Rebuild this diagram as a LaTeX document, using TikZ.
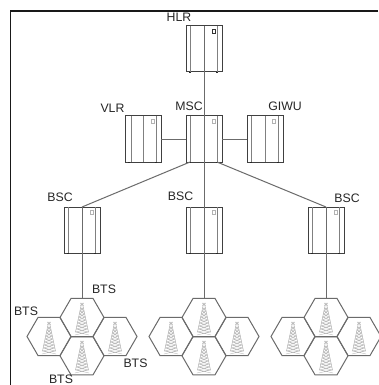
\documentclass[tikz,border=0pt]{standalone}
\usepackage{fontspec}
\setmainfont{Liberation Sans}
\usetikzlibrary{shapes.geometric}
\definecolor{linkc}{gray}{0.42}
\definecolor{hexc}{gray}{0.42}
\definecolor{towc}{gray}{0.68}
\definecolor{txtc}{gray}{0.15}
\tikzset{
  x=1pt,y=-1pt,
  frameline/.style={line width=1.8pt,black!90},
  cabbox/.style={draw=black!75,line width=1pt,rectangle,minimum width=36pt,minimum height=46pt,inner sep=0pt,outer sep=0pt},
  cabline/.style={line width=0.7pt,black!50},
  cabmark/.style={line width=0.5pt,gray!60},
  cabfoot/.style={line width=1.2pt,black!85},
  link/.style={line width=1pt,linkc},
  hexcell/.style={draw=hexc,line width=1pt,regular polygon,regular polygon sides=6,minimum size=44pt,inner sep=0pt,outer sep=0pt},
  lab/.style={font=\fontsize{12.3}{13}\selectfont,text=txtc,inner sep=0pt},
  towerline/.style={line width=0.3pt,towc},
  pics/tower/.style={code={
    \draw[towerline,line width=0.45pt] (-0.8,-13) -- (-6.5,14) (0.8,-13) -- (6.5,14);
    \foreach \t in {0,...,8}{
      \pgfmathsetmacro{\ya}{-10+\t*3}
      \pgfmathsetmacro{\wa}{0.8+(\ya+13)*5.7/27}
      \pgfmathsetmacro{\yb}{\ya+3}
      \pgfmathsetmacro{\wb}{0.8+(\yb+13)*5.7/27}
      \draw[towerline] (-\wa,\ya) -- (\wa,\ya) (-\wa,\ya) -- (\wb,\yb) (\wa,\ya) -- (-\wb,\yb);
    }
    \draw[towerline,line width=0.4pt] (-1.8,-15) -- (1.8,-12.5) (1.8,-15) -- (-1.8,-12.5) (0,-15.5) -- (0,-12);
  }}
}
% name, x, y, left inner, mid inner, right inner, mark x, mark colour
\newcommand{\cabinetat}[8]{
  \node[cabbox] (#1) at (#2,#3) {};
  \draw[cabline] (#4,#3-23) -- (#4,#3+23) (#5,#3-23) -- (#5,#3+23) (#6,#3-23) -- (#6,#3+23);
  \draw[#8] (#7-1.5,#3-20) rectangle (#7+1.5,#3-15.5);
  \draw[cabfoot] (#2-15,#3+23.5) -- (#2-13,#3+23.5) (#2+12,#3+23.5) -- (#2+14,#3+23.5);
}
\begin{document}
\begin{tikzpicture}
\useasboundingbox (0,0) rectangle (378,385);
\fill[white] (0,0) rectangle (378,385);
\draw[frameline] (378,11) -- (10.5,11) -- (10.5,385);

\cabinetat{hlr}{204}{49}{190}{204}{217}{213.5}{cabmark,black!80,line width=0.8pt}
\cabinetat{msc}{204}{139}{190}{204}{217}{213.5}{cabmark}
\cabinetat{vlr}{143}{139}{131.5}{143}{156.5}{152.5}{cabmark}
\cabinetat{giwu}{265}{139}{251.5}{265}{278}{274}{cabmark}
\cabinetat{bscA}{82}{230}{68}{82}{95}{91.5}{cabmark}
\cabinetat{bscB}{204}{230}{190}{204}{217}{213.5}{cabmark}
\cabinetat{bscC}{326}{230}{312}{326}{339}{335.5}{cabmark}

\foreach \n/\c in {A/82,B/204,C/326}{
  \node[hexcell] (top\n) at (\c,317.5) {};
  \node[hexcell] (left\n) at (\c-33,336.5) {};
  \node[hexcell] (right\n) at (\c+33,336.5) {};
  \node[hexcell] (bot\n) at (\c,355.8) {};
  \path (\c,318) pic {tower};
  \path (\c-33,337) pic {tower};
  \path (\c+33,337) pic {tower};
  \path (\c,356) pic {tower};
}

\draw[link] (hlr.north) -- (msc.north);
\draw[link] (msc.north) -- (bscB.north);
\draw[link] (bscB.north) -- (topB.north);
\draw[link] (vlr.east) -- (msc.west);
\draw[link] (msc.east) -- (giwu.west);
\draw[link] ([xshift=4pt]msc.south west) -- (bscA.north);
\draw[link] ([xshift=-5pt]msc.south east) -- (bscC.north);
\draw[link] (bscA.north) -- (topA.north);
\draw[link] (bscC.north) -- (topC.north);

\node[lab] (lhlr) at (179,17) {HLR};
\node[lab] (lvlr) at (112.5,108) {VLR};
\node[lab] (lmsc) at (189,106) {MSC};
\node[lab] (lgiwu) at (285,106) {GIWU};
\node[lab] (lbsca) at (60,197) {BSC};
\node[lab] (lbscb) at (180.5,196) {BSC};
\node[lab] (lbscc) at (347,198) {BSC};
\node[lab] (lbtsa) at (104,289) {BTS};
\node[lab] (lbtsb) at (26,311) {BTS};
\node[lab] (lbtsc) at (135.5,363) {BTS};
\node[lab] (lbtsd) at (61,379) {BTS};
\end{tikzpicture}
\end{document}
